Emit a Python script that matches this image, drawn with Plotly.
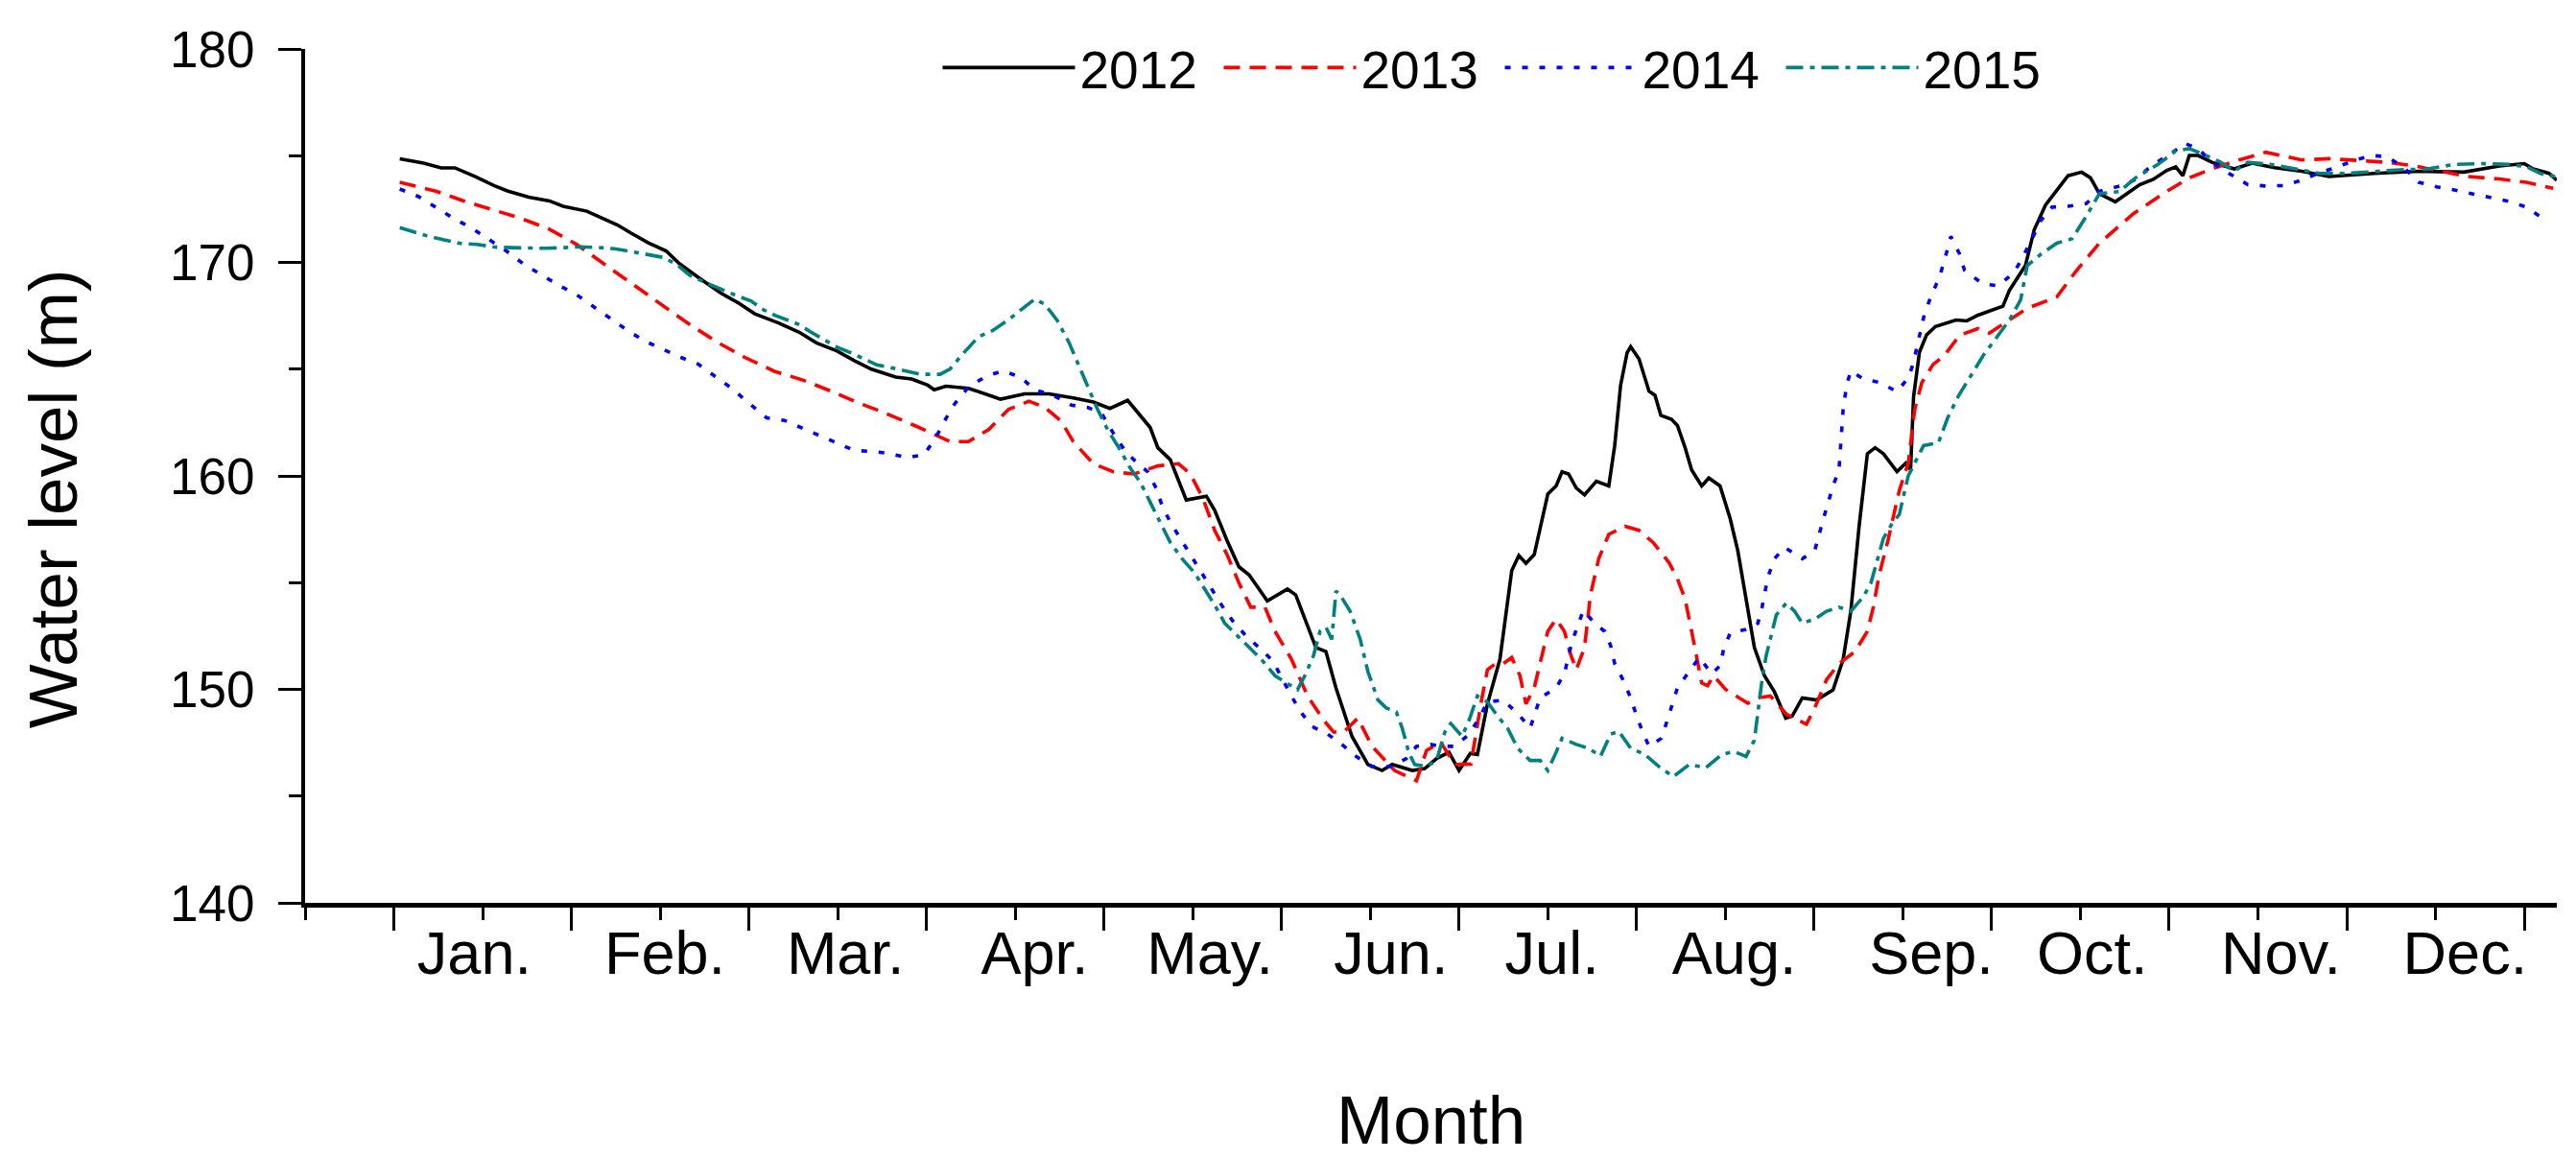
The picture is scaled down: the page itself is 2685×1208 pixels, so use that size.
import plotly.graph_objects as go

# --- data: day of year vs. water level (m) ---
days_2012 = [1, 5, 8, 10.3, 13.5, 17, 19.3, 22.8, 26.3, 28.6, 32.6, 35.5, 37.8, 40.1, 43, 46, 48.3, 51.7,
             55.2, 58.1, 61, 65, 68.5, 71.4, 74.9, 77.8, 80.7, 84.8, 87.5, 90.2, 91.3, 93.3, 97.1, 101.2,
             102.5, 106.6, 110.7, 114.8, 118.2, 121, 124, 127.8, 129.1, 131.2, 133.9, 137.3, 138.7, 140.8,
             142.8, 144.5, 147.6, 151, 152.4, 155.8, 157.5, 159.2, 161.9, 164.6, 167, 168.7, 172.1, 174.2,
             176.2, 178.3, 180, 181.9, 183.1, 184.8, 186.9, 188.9, 190.1, 191.3, 192.7, 195, 196.4, 197.4,
             198.5, 199.8, 201.2, 203.2, 205.3, 206.3, 207.3, 208.4, 209, 210.4, 212.1, 213.1, 214.1, 215.9,
             216.9, 218.2, 219.3, 221, 222.2, 224.1, 225.8, 227.1, 228.5, 229.9, 231.6, 233.3, 235.2, 236.3,
             238, 240.4, 243.2, 244.9, 246.2, 247.6, 249, 250.3, 251.7, 254, 255.5, 256.3, 256.8, 257.8, 259,
             260.5, 264, 265.8, 267.7, 271.9, 273, 275.7, 277.2, 279.1, 282.9, 285.2, 286.7, 288.2, 290.9,
             295, 297.3, 299.6, 301.1, 302.3, 303.4, 304.9, 307.2, 311, 314, 317.8, 322.4, 327, 334.6, 342.2,
             349.8, 355.8, 360, 361.5, 364.2, 365.5]
level_2012 = [174.85, 174.65, 174.43, 174.43, 174.05, 173.59, 173.34, 173.06, 172.88, 172.63, 172.4, 172.05,
              171.75, 171.37, 170.92, 170.54, 169.93, 169.25, 168.57, 168.12, 167.59, 167.16, 166.73, 166.23,
              165.85, 165.4, 165.0, 164.63, 164.54, 164.25, 164.03, 164.2, 164.1, 163.72, 163.59, 163.84,
              163.84, 163.65, 163.46, 163.16, 163.54, 162.27, 161.32, 160.76, 158.87, 159.05, 158.39, 156.97,
              155.74, 155.37, 154.14, 154.7, 154.42, 151.96, 151.77, 150.07, 147.8, 146.48, 146.2, 146.48,
              146.2, 146.29, 146.76, 147.05, 146.2, 147.0, 146.95, 149.32, 151.4, 155.56, 156.27, 155.9,
              156.31, 159.15, 159.53, 160.19, 160.09, 159.43, 159.11, 159.75, 159.53, 161.42, 164.25, 165.77,
              166.05, 165.48, 163.97, 163.78, 162.84, 162.65, 162.36, 161.32, 160.28, 159.53, 159.9, 159.53,
              158.01, 156.5, 154.23, 151.96, 150.64, 149.88, 148.65, 148.75, 149.6, 149.5, 149.98, 151.4,
              153.66, 157.64, 161.04, 161.32, 161.04, 160.2, 160.6, 160.3, 163.7, 165.8, 166.6, 167.0, 167.3,
              167.26, 167.53, 167.95, 168.69, 169.85, 171.54, 172.69, 174.06, 174.23, 173.96, 173.22, 172.84,
              173.64, 173.89, 174.31, 174.48, 174.06, 175.01, 175.01, 174.69, 174.38, 174.65, 174.44, 174.27,
              174.02, 174.17, 174.27, 174.23, 174.52, 174.63, 174.38, 174.17, 173.85]

days_2013 = [1, 7.1, 11.8, 16.4, 21.3, 26.2, 30.9, 35.5, 40.1, 45.1, 50, 54.6, 59.3, 64.2, 69.1, 73.7, 78.4,
             82.5, 88, 94, 97.1, 100.5, 103.9, 107.3, 110, 112.8, 114.8, 118.2, 121.6, 125.1, 129.1, 132.6,
             134.6, 136.7, 138.7, 140.8, 142.8, 144.8, 147.2, 148.9, 151.7, 154.4, 157.1, 158.8, 160.5, 162.9,
             165.3, 169.1, 172.8, 174.5, 176.9, 179.3, 182, 183.8, 184.8, 186.2, 187.5, 188.9, 190.3, 191.3,
             192.7, 194, 195, 196.4, 197.8, 198.8, 199.8, 201.2, 202.2, 203.6, 205.3, 208, 210.4, 212.8, 215.5,
             216.9, 218.2, 219.3, 220.3, 221, 222, 223, 225.1, 228.8, 230.5, 232.6, 235.3, 238.7, 240.1, 242.1,
             244.2, 246.9, 249, 250, 251, 252.5, 254.4, 255.9, 257, 258.2, 260.1, 262, 264.6, 267.7, 269.6,
             273, 276, 281, 284.4, 288.2, 293.9, 299.6, 303.4, 307.2, 311.8, 316.3, 322.4, 327, 332.3, 336.8,
             341.4, 346, 350.5, 355.8, 360.4, 364.9]
level_2013 = [173.75, 173.34, 172.88, 172.5, 172.08, 171.57, 170.84, 169.93, 169.03, 168.09, 167.09, 166.27,
              165.55, 164.91, 164.49, 163.99, 163.43, 163.0, 162.36, 161.61, 161.61, 162.17, 163.12, 163.5,
              163.21, 162.55, 161.61, 160.57, 160.19, 160.09, 160.47, 160.57, 160.09, 158.96, 157.45, 156.31,
              154.99, 153.85, 153.85, 152.72, 151.4, 149.69, 148.56, 148.0, 148.0, 148.65, 147.33, 146.2,
              145.72, 147.14, 147.52, 146.48, 146.5, 149.5, 150.92, 151.21, 151.21, 151.49, 150.64, 149.32,
              150.07, 151.58, 152.72, 153.29, 152.72, 151.68, 150.92, 151.96, 154.42, 156.12, 157.26, 157.64,
              157.45, 156.88, 155.93, 155.18, 154.23, 152.72, 151.21, 150.3, 150.17, 150.64, 149.98, 149.35,
              149.6, 149.69, 148.84, 148.37, 149.13, 150.45, 151.21, 151.77, 152.72, 153.85, 155.37, 157.0,
              159.32, 160.59, 163.11, 164.37, 165.22, 165.64, 166.59, 166.9, 166.69, 167.32, 167.85, 168.38,
              169.64, 170.9, 172.27, 173.33, 173.96, 174.38, 174.8, 175.16, 174.8, 174.86, 174.78, 174.69,
              174.52, 174.27, 174.02, 173.91, 173.75, 173.47]

days_2014 = [1, 4.2, 7.1, 10, 13.2, 16.1, 19, 21.9, 24.8, 27.9, 30.8, 33.8, 36.7, 39.6, 42.5, 45.6, 48.5, 51.4,
             54.3, 57.2, 60.1, 63, 66, 69, 72, 74.9, 77.8, 80.7, 83.7, 86.8, 89.6, 91.6, 93, 94.7, 97.1, 100.1,
             102.9, 105.9, 108.3, 111.4, 114.5, 117.2, 119.6, 122, 123.7, 125.4, 127.4, 128.8, 129.8, 131.2,
             132.9, 134.6, 136.3, 138, 140.1, 141.8, 144.2, 146.6, 148.6, 151.3, 153, 155.1, 157.8, 160.2,
             162.6, 165.3, 168.4, 171.1, 172.8, 175.2, 176.9, 179.3, 181.7, 183.4, 184.8, 187.5, 190.3, 192,
             193.7, 196.4, 197.8, 199.1, 201, 202.9, 204.6, 205.6, 206.3, 207.7, 209, 209.9, 210.9, 212.1,
             214.2, 215.2, 216.9, 218.6, 220.6, 222.7, 224.1, 224.7, 225.8, 228.5, 230.5, 231.2, 232.2, 233.3,
             235, 238, 240.1, 241.5, 243.2, 244.2, 244.5, 244.9, 245.5, 246.2, 248.3, 251, 254, 255.9, 256.7,
             257.4, 258.6, 259.7, 261.2, 262.4, 263.1, 264.6, 265.4, 268.4, 271.1, 273.8, 275.3, 277.2, 278.3,
             280.2, 282.9, 286, 288.2, 292, 294.3, 297.3, 300.4, 302.6, 304.9, 307.2, 309.5, 313.3, 316.3,
             319.4, 322.4, 325.1, 328.5, 331.5, 334.2, 336.8, 339.5, 342.2, 345.2, 348.2, 351.3, 354.3, 357.4,
             360.4, 363.4]
level_2014 = [173.44, 173.08, 172.58, 172.08, 171.6, 171.07, 170.54, 169.93, 169.43, 168.92, 168.5, 167.92,
              167.32, 166.79, 166.3, 165.89, 165.55, 165.24, 164.64, 164.08, 163.38, 162.72, 162.6, 162.22,
              161.88, 161.54, 161.19, 161.15, 161.05, 160.85, 161.0, 161.8, 162.55, 163.35, 164.16, 164.67,
              164.92, 164.63, 164.03, 163.78, 163.31, 163.21, 162.93, 161.8, 161.13, 160.66, 160.19, 159.43,
              158.62, 157.83, 157.07, 156.31, 155.56, 154.76, 153.85, 153.19, 152.44, 151.87, 151.3, 149.88,
              149.03, 148.27, 147.9, 147.42, 146.86, 146.38, 146.38, 146.76, 147.33, 147.42, 147.33, 147.33,
              147.9, 148.65, 149.41, 149.5, 148.75, 148.18, 149.6, 150.07, 150.73, 152.25, 153.7, 153.1,
              152.72, 152.06, 151.21, 150.45, 149.6, 148.84, 148.09, 147.33, 147.71, 148.56, 150.07, 150.73,
              151.49, 150.73, 151.11, 151.87, 152.63, 152.81, 153.1, 153.85, 155.27, 156.12, 156.65, 156.12,
              156.5, 157.92, 159.53, 160.28, 161.8, 163.12, 164.25, 164.92, 164.54, 164.38, 163.95, 164.59,
              165.22, 166.06, 167.53, 168.38, 169.32, 170.48, 171.22, 170.38, 169.64, 169.01, 168.9, 169.53,
              170.27, 171.32, 171.96, 172.59, 172.63, 172.76, 173.33, 173.6, 173.89, 174.59, 175.11, 175.58,
              175.33, 174.69, 174.27, 173.64, 173.58, 173.6, 173.85, 174.17, 174.48, 174.8, 175.01, 174.95,
              174.48, 173.75, 173.54, 173.39, 173.22, 173.07, 172.86, 172.59, 172.0]

days_2015 = [1, 3.1, 5.4, 8.3, 11.2, 14.1, 17, 19.9, 22.8, 25.7, 28.6, 31.5, 34.4, 37.3, 40.1, 43, 45.4, 47.7,
             50, 52.3, 55.2, 58.1, 60.4, 62.2, 64.5, 66.8, 68.5, 70.3, 72.6, 74.9, 77.2, 79.5, 81.6, 84.5, 88.9,
             92.3, 94, 96, 98.8, 101.2, 103.9, 106.3, 108.3, 110, 112.1, 114.1, 115.8, 117.5, 118.9, 120.6,
             122.7, 124.4, 126.1, 127.8, 129.5, 131.2, 133.2, 135.3, 137, 138.7, 140.4, 142.5, 144.5, 146.6,
             148.9, 151, 152.7, 154.1, 155.4, 156.5, 157.5, 158.5, 159.2, 159.9, 161.6, 163.3, 164.6, 166.3,
             167.7, 169.4, 170.4, 171.5, 172.5, 174.5, 176.2, 177.6, 178.6, 180.5, 181.7, 183.1, 184.8, 186.5,
             188.2, 189.9, 192, 193.7, 195, 196.4, 197.4, 199.8, 201.9, 203.9, 205.6, 207, 209, 211.4, 213.8,
             216.2, 218.9, 221.7, 224.4, 226.4, 228.5, 229.9, 230.5, 231.2, 231.9, 232.6, 233.6, 235.3, 236.7,
             238, 240.1, 242.1, 244.2, 246.2, 248.3, 249.6, 250.7, 251.7, 253.1, 254.4, 255.9, 257.2, 258.5,
             261, 262.6, 264.4, 266.4, 268.6, 270.6, 273, 274.9, 276, 278.3, 281, 283.6, 286, 288.2, 291.6,
             294.3, 298.1, 301.1, 303.4, 305.7, 308.7, 311, 313.3, 317.1, 321.6, 325.4, 330, 334.6, 339.1,
             343.7, 348.2, 352.8, 357.4, 360.4, 362.7, 365.3]
level_2015 = [171.63, 171.45, 171.26, 171.07, 170.89, 170.84, 170.72, 170.69, 170.66, 170.66, 170.69, 170.73,
              170.7, 170.64, 170.51, 170.36, 170.24, 169.93, 169.4, 169.1, 168.75, 168.42, 168.19, 167.82,
              167.51, 167.29, 167.09, 166.76, 166.38, 166.03, 165.77, 165.47, 165.2, 165.04, 164.76, 164.76,
              165.01, 165.67, 166.52, 166.81, 167.32, 167.85, 168.28, 168.04, 167.28, 166.24, 165.11, 163.97,
              163.12, 162.17, 161.23, 160.38, 159.72, 158.77, 157.83, 156.88, 156.12, 155.46, 154.71, 153.95,
              153.1, 152.53, 151.96, 151.4, 150.64, 150.26, 149.98, 150.73, 151.58, 152.72, 152.91, 152.34,
              154.61, 154.42, 153.66, 152.34, 150.83, 149.5, 149.13, 148.94, 148.18, 147.05, 146.48, 146.38,
              146.67, 148.0, 148.4, 147.8, 148.56, 149.69, 149.41, 148.75, 148.18, 147.24, 146.67, 146.67,
              146.2, 147.05, 147.71, 147.42, 147.24, 146.86, 147.9, 148.03, 147.24, 146.95, 146.38, 145.91,
              146.48, 146.33, 146.95, 147.09, 146.86, 147.61, 148.94, 150.45, 151.58, 152.34, 153.48, 154.04,
              153.66, 153.1, 153.29, 153.66, 153.85, 153.66, 154.33, 154.99, 156.12, 157.07, 157.73, 158.2,
              160.0, 160.7, 161.42, 161.55, 162.74, 163.75, 164.65, 165.65, 166.4, 167.3, 168.25, 169.85,
              170.38, 170.9, 171.11, 172.17, 173.22, 173.32, 173.96, 174.59, 175.22, 175.33, 175.07, 174.69,
              174.27, 174.69, 174.59, 174.38, 174.17, 174.17, 174.27, 174.34, 174.38, 174.59, 174.63, 174.59,
              174.48, 174.17, 174.02]

month_names = ["Jan.", "Feb.", "Mar.", "Apr.", "May.", "Jun.", "Jul.", "Aug.", "Sep.", "Oct.", "Nov.", "Dec."]
month_label_days = [13.6, 45.8, 76.3, 108.3, 137.9, 168.5, 195.7, 226.5, 259.8, 287, 318.9, 350]
major_tick_days = list(range(0, 361, 30))
minor_tick_days = list(range(-15, 346, 30))

FONT = "Arial, Liberation Sans, sans-serif"

series = [
    ("2012", days_2012, level_2012, "#000000", "solid"),
    ("2013", days_2013, level_2013, "#FF0000", "17px,10px"),
    ("2014", days_2014, level_2014, "#0000FF", "6px,12px"),
    ("2015", days_2015, level_2015, "#008080", "18px,7px,5px,7px"),
]

fig = go.Figure()
for name, xs, ys, color, dash in series:
    fig.add_trace(go.Scatter(x=xs, y=ys, name=name, mode="lines",
                             line=dict(color=color, width=3.6, dash=dash)))

# invisible helper trace so the month labels get their own overlay axis
fig.add_trace(go.Scatter(x=[month_label_days[0]], y=[150], xaxis="x2", mode="markers",
                         marker=dict(opacity=0), showlegend=False, hoverinfo="skip"))

fig.update_layout(
    width=2685, height=1208,
    paper_bgcolor="white", plot_bgcolor="white",
    margin=dict(l=310, r=28, t=43, b=275, autoexpand=False),
    font=dict(family=FONT, color="black"),
    showlegend=True,
    legend=dict(orientation="h", x=0.281, xanchor="left", y=0.978, yanchor="middle",
                font=dict(size=55, family=FONT), itemwidth=138, entrywidth=140,
                entrywidthmode="pixels", bgcolor="rgba(0,0,0,0)", tracegroupgap=0),
    xaxis=dict(range=[-15, 365.5], showgrid=False, zeroline=False,
               showline=True, linecolor="black", linewidth=5,
               tickmode="array", tickvals=major_tick_days, showticklabels=False,
               ticks="outside", ticklen=24, tickwidth=3, tickcolor="black",
               minor=dict(tickmode="array", tickvals=minor_tick_days, ticks="outside",
                          ticklen=13, tickwidth=3, tickcolor="black", showgrid=False)),
    xaxis2=dict(range=[-15, 365.5], overlaying="x", anchor="y", side="bottom",
                showgrid=False, zeroline=False, showline=False, ticks="",
                tickmode="array", tickvals=month_label_days, ticktext=month_names,
                tickfont=dict(size=63, family=FONT, color="black"), ticklabelstandoff=10),
    yaxis=dict(range=[140, 180], showgrid=False, zeroline=False,
               showline=True, linecolor="black", linewidth=4,
               tickmode="array", tickvals=[140, 150, 160, 170, 180],
               ticks="outside", ticklen=24, tickwidth=3, tickcolor="black",
               tickfont=dict(size=53, family=FONT, color="black"), ticklabelstandoff=14,
               minor=dict(tickmode="array", tickvals=[145, 155, 165, 175], ticks="outside",
                          ticklen=13, tickwidth=3, tickcolor="black", showgrid=False)),
    annotations=[
        dict(text="Water level (m)", textangle=-90, xref="paper", yref="paper",
             x=-0.112, y=0.473, xanchor="center", yanchor="middle", showarrow=False,
             font=dict(size=71, family=FONT, color="black")),
        dict(text="Month", xref="paper", yref="paper", x=0.5, y=-0.255,
             xanchor="center", yanchor="middle", showarrow=False,
             font=dict(size=71, family=FONT, color="black")),
    ],
)

fig.write_html("out.html")
